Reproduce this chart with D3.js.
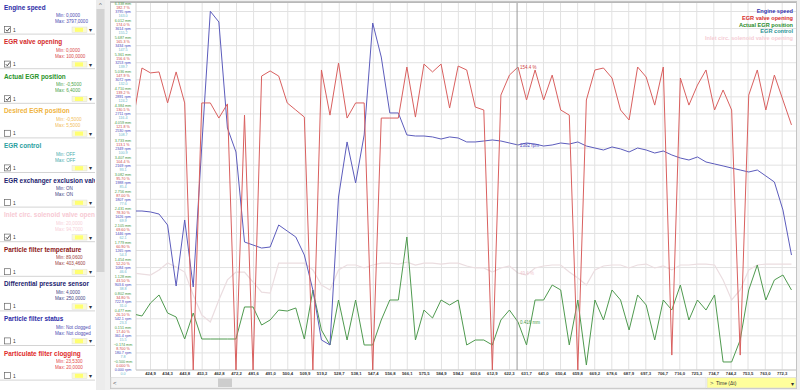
<!DOCTYPE html>
<html lang="en">
<head>
<meta charset="UTF-8">
<title>EGR log</title>
<script src="https://cdnjs.cloudflare.com/ajax/libs/d3/7.8.5/d3.min.js"></script>
<style>
body { margin: 0; background: #f0f0f0; font-family: Arial, "Liberation Sans", sans-serif; }
</style>
</head>
<body>
<div id="draw-here"></div>
<script>
// sample times (s)
var times = [415.5, 420.2, 424.9, 429.6, 434.3, 439.0, 443.7, 448.4, 453.1, 457.8,
  462.5, 467.2, 471.9, 476.6, 481.3, 486.0, 490.7, 495.4, 500.1, 504.8,
  509.5, 514.2, 518.9, 523.6, 528.3, 533.0, 537.7, 542.4, 547.1, 551.8,
  556.5, 561.2, 565.9, 570.6, 575.3, 580.0, 584.7, 589.4, 594.1, 598.8,
  603.5, 608.2, 612.9, 617.6, 622.3, 627.0, 631.7, 636.4, 641.1, 645.8,
  650.5, 655.2, 659.9, 664.6, 669.3, 674.0, 678.7, 683.4, 688.1, 692.8,
  697.5, 702.2, 706.9, 711.6, 716.3, 721.0, 725.7, 730.4, 735.1, 739.8,
  744.5, 749.2, 753.9, 758.6, 763.3, 768.0, 772.7, 777.4];

// Engine speed (rpm)
var engineSpeed = [1683, 1683, 1673, 1651, 1535, 889, 1588, 879, 2371, 3797,
  3684, 2562, 2308, 1355, 1323, 1291, 1302, 1535, 1471, 1408,
  1217, 847, 318, 265, 1831, 2414, 1980, 2488, 3673, 3313,
  2721, 2721, 2488, 2477, 2477, 2467, 2445, 2467, 2456, 2414,
  2414, 2424, 2435, 2424, 2403, 2382, 2403, 2392, 2371, 2382,
  2403, 2392, 2414, 2371, 2350, 2329, 2361, 2340, 2308, 2350,
  2329, 2297, 2318, 2276, 2244, 2223, 2255, 2202, 2181, 2160,
  2138, 2117, 2096, 2117, 2054, 1990, 1694, 1217];

// EGR valve opening (%)
var egrValve = [128.4, 153.9, 151.4, 151.9, 136.1, 151.9, 136.1, 0, 136.1, 136.1,
  128.4, 135.6, 0, 129.9, 0, 149.8, 152.4, 149.8, 136.1, 132.5,
  128.9, 0, 152.9, 129.9, 156.4, 128.4, 136.1, 136.1, 0, 128.4,
  128.4, 128.4, 154.4, 128.9, 155.9, 151.9, 155.9, 133.5, 154.9, 152.9,
  134.0, 132.5, 0, 140.1, 150.3, 154.4, 137.6, 152.9, 137.6, 150.3,
  132.5, 129.9, 0, 137.6, 152.9, 153.9, 148.8, 132.5, 127.4, 154.4,
  149.3, 135.0, 154.4, 7.6, 148.8, 135.0, 145.2, 152.9, 132.5, 142.7,
  132.5, 7.6, 140.1, 152.9, 132.5, 150.3, 137.6, 124.9];

// Actual EGR position (mm)
var egrActual = [0.568, 0.530, 0.778, 0.931, 0.587, 0.511, 0.091, 0.587, 0.091, 0.091,
  0.091, 0.091, 0.091, 0.702, 0.702, 0.358, 0.454, 0.644, 0.625, 0.683,
  0.091, 1.026, 0.263, -0.023, 0.835, 0.072, 0.835, -0.023, -0.023, 0.454,
  0.835, 0.835, 2.037, 0.072, 0.644, 0.492, 0.835, 0.740, 0.835, -0.023,
  0.072, 0.072, -0.023, 0.454, 0.644, 0.416, -0.023, 0.835, 0.835, 1.121,
  1.026, -0.023, 0.835, -0.405, 0.835, 0.454, 1.026, 0.835, 0.263, 0.931,
  0.740, 0.072, 0.835, 0.644, 1.121, 0.454, 0.835, 0.644, 0.931, -0.347,
  -0.347, 0.072, 1.026, 1.503, 0.835, 1.217, 1.312, 1.026];

// Inlet circ. solenoid valve opening (%)
var inletCirc = [49.4, 48.9, 48.4, 51.0, 54.5, 52.5, 49.9, 38.2, 28.0, 24.5,
  35.7, 45.9, 49.9, 49.9, 44.8, 39.7, 39.2, 54.5, 54.5, 54.5,
  54.5, 51.0, 43.3, 40.8, 51.0, 53.5, 53.5, 52.0, 53.5, 54.5,
  54.5, 54.0, 55.0, 53.5, 54.5, 54.5, 54.0, 54.5, 54.5, 53.0,
  52.0, 52.0, 49.9, 52.0, 53.0, 49.4, 48.4, 52.0, 53.0, 53.5,
  53.5, 49.9, 46.9, 43.3, 51.0, 53.0, 53.5, 53.5, 52.0, 53.5,
  54.0, 52.0, 53.0, 51.0, 53.5, 53.5, 54.0, 54.0, 53.5, 45.9,
  35.7, 40.8, 51.0, 53.5, 54.0, 54.0, 54.0, 54.0];

var xTicks = [424.9, 434.3, 443.8, 453.3, 462.8, 472.2, 481.6, 491.0, 500.4, 509.9,
  519.2, 528.7, 538.1, 547.4, 556.8, 566.1, 575.5, 584.9, 594.2, 603.6,
  612.9, 622.3, 631.7, 641.0, 650.4, 659.8, 669.2, 678.6, 687.9, 697.3,
  706.7, 716.0, 725.3, 734.7, 744.2, 753.5, 763.0, 772.3];

// channel list on the left
var chNames = ["Engine speed", "EGR valve opening", "Actual EGR position", "Desired EGR position",
  "EGR control", "EGR exchanger exclusion valve", "Inlet circ. solenoid valve opening",
  "Particle filter temperature", "Differential pressure sensor", "Particle filter status",
  "Particulate filter clogging"];
var chMin = ["0,0000", "0,0000", "-0,5000", "-0,5000", "OFF", "ON", "20,0000", "89,0600", "4,0000", "Not clogged", "23,5300"];
var chMax = ["3797,0000", "100,0000", "6,4000", "5,5000", "OFF", "ON", "94,7000", "403,4600", "250,0000", "Not clogged", "20,0000"];
var chChecked = [1, 1, 1, 0, 1, 0, 1, 0, 0, 0, 0];
var chColors = ["#2b2ba6", "#d42a2a", "#2a942a", "#f0b440", "#2a9e9e", "#22226e", "#f7c9d3",
  "#8c1616", "#22226e", "#2b2ba6", "#e02a2a"];

var legendNames = ["Engine speed", "EGR valve opening", "Actual EGR position", "EGR control", "Inlet circ. solenoid valve opening"];
var legendColors = ["#3434b0", "#d82c2c", "#2a8c2a", "#2a9494", "#f5cdd5"];

var cursorTime = 626.5;
var nLevels = 21;

var w = 800, h = 390;
var plotLeft = 136, plotRight = 796, plotTop = 3, plotBottom = 370, yTop = 11.5;

var svg = d3.select("#draw-here").append("svg")
  .attr("width", w).attr("height", h)
  .style("display", "block");

svg.append("rect").attr("width", w).attr("height", h).attr("fill", "#f0f0f0");

// ---------- channel list ----------
var list = svg.append("g");
list.append("rect").attr("x", 0).attr("y", 0).attr("width", 96).attr("height", h).attr("fill", "#fff");
list.append("clipPath").attr("id", "listclip").append("rect").attr("width", 95).attr("height", h);

var panelH = 34.6;
var panels = list.selectAll("g.ch").data(chNames).enter().append("g")
  .attr("clip-path", "url(#listclip)")
  .attr("transform", function(d, i) { return "translate(0," + (i * panelH) + ")"; });

panels.append("text").text(function(d) { return d; })
  .attr("x", 4).attr("y", 9.5)
  .attr("font-size", "6.4px").attr("font-weight", "bold")
  .attr("fill", function(d, i) { return chColors[i]; });
panels.append("text").text(function(d, i) { return "Min: " + chMin[i]; })
  .attr("x", 56).attr("y", 17.2).attr("font-size", "4.6px")
  .attr("fill", function(d, i) { return chColors[i]; }).attr("opacity", 0.85);
panels.append("text").text(function(d, i) { return "Max: " + chMax[i]; })
  .attr("x", 55).attr("y", 23.3).attr("font-size", "4.6px")
  .attr("fill", function(d, i) { return chColors[i]; }).attr("opacity", 0.85);
panels.append("rect").attr("x", 4.5).attr("y", 26.5).attr("width", 6).attr("height", 6)
  .attr("fill", "#fff").attr("stroke", "#666").attr("stroke-width", 0.7);
panels.filter(function(d, i) { return chChecked[i]; }).append("path")
  .attr("d", "M5.8,29.6 L7.3,31.2 L9.8,27.8")
  .attr("fill", "none").attr("stroke", "#333").attr("stroke-width", 0.9);
panels.append("text").text("1").attr("x", 13).attr("y", 31.6).attr("font-size", "4.8px").attr("fill", "#333");
panels.append("rect").attr("x", 72).attr("y", 27).attr("width", 15).attr("height", 5.5)
  .attr("fill", "#fafad2").attr("stroke", "#ddd").attr("stroke-width", 0.5);
panels.append("rect").attr("x", 75).attr("y", 27.8).attr("width", 8).attr("height", 4)
  .attr("fill", "#ffff70");
panels.append("text").text("\u25BE").attr("x", 88.5).attr("y", 32).attr("font-size", "5.5px").attr("fill", "#333");
panels.append("line").attr("x1", 0).attr("x2", 95).attr("y1", panelH - 0.5).attr("y2", panelH - 0.5)
  .attr("stroke", "#d4d4d4").attr("stroke-width", 1);

// scrollbar of list
list.append("rect").attr("x", 96).attr("y", 0).attr("width", 9).attr("height", h).attr("fill", "#ececec");
list.append("rect").attr("x", 96.5).attr("y", 9).attr("width", 8).attr("height", 263).attr("fill", "#d3d3d3");
list.append("text").text("^").attr("x", 100.5).attr("y", 7).attr("text-anchor", "middle")
  .attr("font-size", "6px").attr("fill", "#666");

// ---------- chart frame ----------
svg.append("rect").attr("x", 110.5).attr("y", 1.5).attr("width", 686).attr("height", 387)
  .attr("fill", "#fff").attr("stroke", "#c4c4c4");

var x = d3.scaleLinear().domain([424.9, 772.3]).range([150.5, 782.2]);
var yRpm = d3.scaleLinear().domain([0, 3795]).range([plotBottom, yTop]);
var yPct = d3.scaleLinear().domain([0, 182.7]).range([plotBottom, yTop]);
var yMm = d3.scaleLinear().domain([-0.5, 6.338]).range([plotBottom, yTop]);
var yCtl = d3.scaleLinear().domain([0, 163]).range([plotBottom, yTop]);

var levels = d3.range(nLevels + 1);
var grid = svg.append("g");
grid.selectAll("line.h").data(levels).enter().append("line")
  .attr("x1", plotLeft).attr("x2", plotRight)
  .attr("y1", function(d) { return yPct(d * 182.7 / nLevels); })
  .attr("y2", function(d) { return yPct(d * 182.7 / nLevels); })
  .attr("stroke", "#e2e2e2").attr("stroke-width", 1);
grid.selectAll("line.v").data(xTicks).enter().append("line")
  .attr("x1", function(d) { return x(d); }).attr("x2", function(d) { return x(d); })
  .attr("y1", plotTop).attr("y2", plotBottom)
  .attr("stroke", "#e2e2e2").attr("stroke-width", 1);
grid.append("line").attr("x1", plotLeft).attr("x2", plotLeft).attr("y1", plotTop).attr("y2", plotBottom).attr("stroke", "#d0d0d0");
grid.append("line").attr("x1", 110).attr("x2", plotRight).attr("y1", plotTop - 0.5).attr("y2", plotTop - 0.5).attr("stroke", "#b8b8b8");
grid.append("line").attr("x1", plotLeft).attr("x2", plotRight).attr("y1", plotBottom).attr("y2", plotBottom).attr("stroke", "#c8c8c8");

// stacked left axis labels (one per series for each grid level)
var axisDefs = [
  { scale: yMm, fmt: function(v) { return d3.format(".3f")(v) + " mm"; }, color: "#3f9a3f", dy: -7.5 },
  { scale: yPct, fmt: function(v) { return d3.format(".4r")(v) + " %"; }, color: "#d04646", dy: -3.5 },
  { scale: yRpm, fmt: function(v) { return d3.format(".4r")(v) + " rpm"; }, color: "#4848bb", dy: 0.5 },
  { scale: yCtl, fmt: function(v) { return d3.format(".1f")(v); }, color: "#6eb6cc", dy: 4.5 }
];
var axisG = svg.append("g");
axisDefs.forEach(function(a) {
  var dom = a.scale.domain();
  axisG.selectAll(null).data(levels).enter().append("text")
    .text(function(d) { return a.fmt(dom[0] + d * (dom[1] - dom[0]) / nLevels); })
    .attr("x", 123).attr("text-anchor", "middle")
    .attr("y", function(d) { return a.scale(dom[0] + d * (dom[1] - dom[0]) / nLevels) + a.dy; })
    .attr("dominant-baseline", "middle")
    .attr("font-size", "3.7px").attr("fill", a.color);
});

// x tick labels
svg.append("g").selectAll("text").data(xTicks).enter().append("text")
  .text(function(d) { return d3.format(".1f")(d).replace(".", ","); })
  .attr("x", function(d) { return x(d); }).attr("y", 375)
  .attr("text-anchor", "middle").attr("font-size", "4.2px").attr("font-weight", "bold").attr("fill", "#333");

// ---------- series ----------
svg.append("clipPath").attr("id", "plotclip").append("rect")
  .attr("x", plotLeft).attr("y", plotTop).attr("width", plotRight - plotLeft).attr("height", plotBottom - plotTop + 1);
var plot = svg.append("g").attr("clip-path", "url(#plotclip)");

var series = [
  { values: inletCirc, scale: yPct, color: "#ebdde0", width: 1.2 },
  { values: egrActual, scale: yMm, color: "#4f9a4f", width: 1 },
  { values: engineSpeed, scale: yRpm, color: "#5c5cbc", width: 1 },
  { values: egrValve, scale: yPct, color: "#d9605f", width: 1 }
];
series.forEach(function(s) {
  var line = d3.line()
    .x(function(d, i) { return x(times[i]); })
    .y(function(d) { return s.scale(d); });
  plot.append("path").datum(s.values)
    .attr("d", line).attr("fill", "none")
    .attr("stroke", s.color).attr("stroke-width", s.width);
});

// cursor
var ci = d3.bisectCenter(times, cursorTime);
var cx = x(cursorTime);
plot.append("line").attr("x1", cx).attr("x2", cx).attr("y1", plotTop).attr("y2", plotBottom)
  .attr("stroke", "#9a9a9a").attr("stroke-width", 1);
var cursorLabels = [
  { text: d3.format(".1f")(egrValve[ci]) + " %", y: yPct(egrValve[ci]), color: "#d04646" },
  { text: Math.round(engineSpeed[ci]) + " rpm", y: yRpm(engineSpeed[ci]), color: "#4848bb" },
  { text: d3.format(".1f")(inletCirc[ci]) + " %", y: yPct(inletCirc[ci]), color: "#efc8d0" },
  { text: d3.format(".3f")(egrActual[ci]) + " mm", y: yMm(egrActual[ci]), color: "#3f9a3f" }
];
plot.selectAll("text.cur").data(cursorLabels).enter().append("text")
  .text(function(d) { return d.text; })
  .attr("x", cx + 3).attr("y", function(d) { return d.y + 2; })
  .attr("font-size", "4.5px").attr("fill", function(d) { return d.color; });

// legend
svg.append("g").selectAll("text").data(legendNames).enter().append("text")
  .text(function(d) { return d; })
  .attr("x", 793).attr("y", function(d, i) { return 13 + i * 6.8; })
  .attr("text-anchor", "end").attr("font-size", "5.6px").attr("font-weight", "bold")
  .attr("fill", function(d, i) { return legendColors[i]; });

// ---------- bottom scroll + time selector ----------
svg.append("rect").attr("x", 111).attr("y", 377.5).attr("width", 595).attr("height", 10.5)
  .attr("fill", "#f3f3f3").attr("stroke", "#dcdcdc").attr("stroke-width", 0.7);
svg.append("rect").attr("x", 218).attr("y", 378.5).attr("width", 14).attr("height", 8.5).attr("fill", "#cdcdcd");
svg.append("text").text("<").attr("x", 113).attr("y", 385).attr("font-size", "6px").attr("fill", "#555");
svg.append("rect").attr("x", 707).attr("y", 377.5).attr("width", 89).attr("height", 10.5)
  .attr("fill", "#ffff9c").attr("stroke", "#dcdcdc").attr("stroke-width", 0.7);
svg.append("text").text(">").attr("x", 710).attr("y", 385).attr("font-size", "6px").attr("fill", "#555");
svg.append("text").text("Time (\u0394t)").attr("x", 716).attr("y", 385).attr("font-size", "5px").attr("fill", "#333");
svg.append("text").text("\u25BE").attr("x", 791).attr("y", 385.5).attr("font-size", "6px").attr("fill", "#333");
</script>
</body>
</html>
